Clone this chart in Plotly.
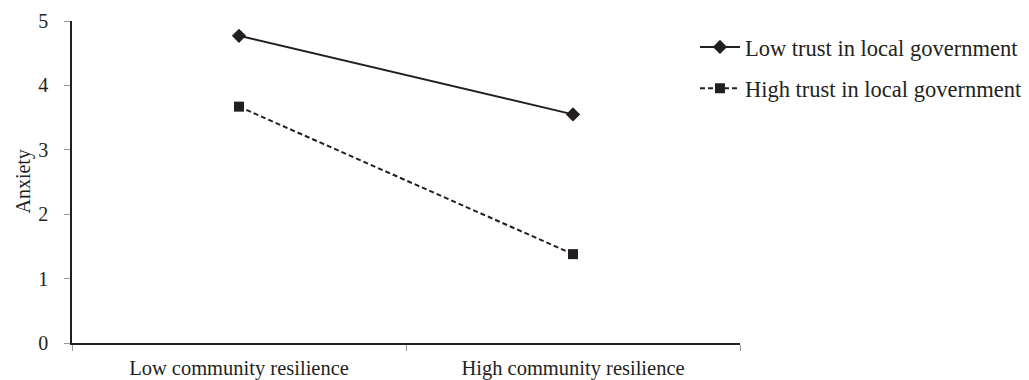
import plotly.graph_objects as go

categories = ["Low community resilience", "High community resilience"]
low_trust = [4.77, 3.55]
high_trust = [3.67, 1.38]
series_names = ["Low trust in local government", "High trust in local government"]
y_ticks = [0, 1, 2, 3, 4, 5]

FONT = "Liberation Serif, Times New Roman, serif"
INK = "#231f20"

fig = go.Figure()
fig.add_trace(go.Scatter(
    x=categories, y=low_trust, name=series_names[0], mode="lines+markers",
    line=dict(color=INK, width=2, dash="solid"),
    marker=dict(symbol="diamond", size=11, color=INK),
    legendgroup="a"))
fig.add_trace(go.Scatter(
    x=categories, y=high_trust, name=series_names[1], mode="lines+markers",
    line=dict(color=INK, width=2, dash="5px,3px"),
    marker=dict(symbol="square", size=10, color=INK),
    legendgroup="b"))

# page body has an 8px margin, compensate in the figure margins
fig.update_layout(
    width=1029, height=380,
    margin=dict(l=64, r=297, t=13, b=45, autoexpand=False),
    paper_bgcolor="white", plot_bgcolor="white",
    font=dict(family=FONT, size=20, color=INK),
    showlegend=True,
    legend=dict(x=0.9326, xanchor="left", y=0.985, yanchor="top",
                xref="paper", yref="paper",
                font=dict(family=FONT, size=22.5, color=INK),
                traceorder="grouped", tracegroupgap=9,
                bgcolor="rgba(0,0,0,0)", itemwidth=40),
    xaxis=dict(type="category", range=[-0.5, 1.5], tickson="boundaries",
               showline=True, linecolor=INK, linewidth=1.5,
               ticks="outside", ticklen=6, tickcolor="#999999",
               showgrid=False, zeroline=False, ticklabelstandoff=6,
               tickfont=dict(family=FONT, size=20.5)),
    yaxis=dict(range=[0, 5], tickvals=y_ticks, showline=True,
               linecolor=INK, linewidth=1.5,
               ticks="outside", ticklen=6, tickcolor="#999999",
               showgrid=False, zeroline=False, ticklabelstandoff=12,
               tickfont=dict(family=FONT, size=20)),
)
fig.add_annotation(text="Anxiety", textangle=-90, xref="paper", yref="paper",
                   x=-0.074, y=0.5, xanchor="center", yanchor="middle",
                   showarrow=False, font=dict(family=FONT, size=20, color=INK))

fig.write_html("out.html")
